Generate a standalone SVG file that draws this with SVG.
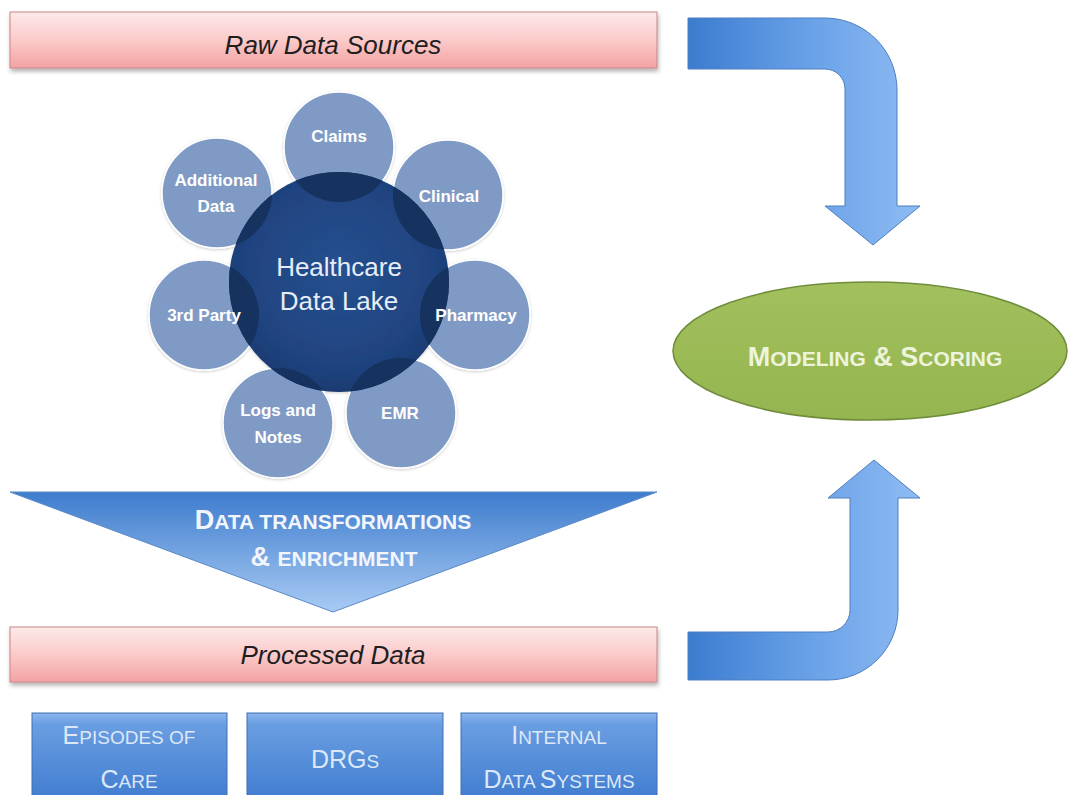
<svg xmlns="http://www.w3.org/2000/svg" width="1070" height="795" viewBox="0 0 1070 795">
<defs>
<linearGradient id="pink" x1="0" y1="0" x2="0" y2="1">
<stop offset="0" stop-color="#fdeaea"/><stop offset="0.5" stop-color="#fbcaca"/><stop offset="1" stop-color="#f4a2a2"/>
</linearGradient>
<linearGradient id="arrowGrad" gradientUnits="userSpaceOnUse" x1="688" y1="0" x2="915" y2="0">
<stop offset="0" stop-color="#3b7cd0"/><stop offset="0.55" stop-color="#6aa2e8"/><stop offset="1" stop-color="#8dbaf2"/>
</linearGradient>
<linearGradient id="triGrad" x1="0" y1="0" x2="0" y2="1">
<stop offset="0" stop-color="#3e7ccd"/><stop offset="1" stop-color="#a9cbf4"/>
</linearGradient>
<linearGradient id="boxGrad" x1="0" y1="0" x2="0" y2="1">
<stop offset="0" stop-color="#8cb6ee"/><stop offset="0.12" stop-color="#6a9ee2"/><stop offset="1" stop-color="#3f7bcf"/>
</linearGradient>
<radialGradient id="coreGrad" cx="0.5" cy="0.45" r="0.55">
<stop offset="0" stop-color="#26508f"/><stop offset="0.8" stop-color="#1f437f"/><stop offset="1" stop-color="#1a3a70"/>
</radialGradient>
<linearGradient id="greenGrad" x1="0" y1="0" x2="0" y2="1">
<stop offset="0" stop-color="#a2c05e"/><stop offset="1" stop-color="#94b54f"/>
</linearGradient>
<clipPath id="coreClip"><circle cx="339" cy="282" r="110"/></clipPath>
<filter id="shadow" x="-5%" y="-20%" width="110%" height="150%">
<feDropShadow dx="1" dy="3" stdDeviation="2" flood-color="#000" flood-opacity="0.3"/>
</filter>
<filter id="soft" x="-10%" y="-10%" width="120%" height="120%">
<feDropShadow dx="0" dy="1" stdDeviation="1.5" flood-color="#000" flood-opacity="0.2"/>
</filter>
</defs>
<style>
.bar{fill:url(#pink);stroke:#c78585;stroke-width:1;filter:url(#shadow)}
.barText{font-family:"Liberation Sans",Arial,sans-serif;font-style:italic;font-size:26px;fill:#1e1e1e;text-anchor:middle}
.sat{fill:#7f9bc5;stroke:#ffffff;stroke-width:1.5}
.satDark{fill:#15305e}
.satText{font-family:"Liberation Sans",Arial,sans-serif;font-weight:bold;font-size:17px;fill:#ffffff;text-anchor:middle}
.coreText{font-family:"Liberation Sans",Arial,sans-serif;font-size:26px;fill:#e6edf8;text-anchor:middle}
.arrow{fill:url(#arrowGrad);stroke:#4f7fbf;stroke-width:1}
.box{fill:url(#boxGrad);stroke:#3f6fb0;stroke-width:1}
.boxText{font-family:"Liberation Sans",Arial,sans-serif;font-size:25px;fill:#dce8f8;text-anchor:middle}
.sc{font-size:19px}
.triText{font-family:"Liberation Sans",Arial,sans-serif;font-weight:bold;font-size:27px;fill:#f2f6fc;text-anchor:middle}
.tsc{font-size:21px}
.ellText{font-family:"Liberation Sans",Arial,sans-serif;font-weight:bold;font-size:27px;fill:#eef4dc;text-anchor:middle}
.esc{font-size:21px}
</style>
<rect width="1070" height="795" fill="#ffffff"/>

<g id="connectors">
<path class="arrow" d="M688,18 L825,18 A72,72 0 0 1 897,90 L897,206 L920,206 L873,245 L825,206 L845,206 L845,89 A20,20 0 0 0 825,69 L688,69 Z"/>
<path class="arrow" d="M688,632 L828,632 A22,22 0 0 0 850,610 L850,498 L828,498 L874,460 L920,498 L898,498 L898,610 A70,70 0 0 1 828,680 L688,680 Z"/>
</g>

<g id="raw-data-sources">
<rect class="bar" x="10" y="12" width="647" height="56"/>
<text class="barText" x="333" y="54">Raw Data Sources</text>
</g>

<g id="healthcare-data-lake" filter="url(#soft)">
<circle class="sat" cx="339" cy="147" r="55"/>
<circle class="sat" cx="448" cy="195" r="55"/>
<circle class="sat" cx="475" cy="315" r="55"/>
<circle class="sat" cx="401" cy="413" r="55"/>
<circle class="sat" cx="278" cy="423" r="55"/>
<circle class="sat" cx="204" cy="315" r="55"/>
<circle class="sat" cx="217" cy="193" r="55"/>
<circle cx="339" cy="282" r="110" fill="url(#coreGrad)"/>
<g clip-path="url(#coreClip)">
<circle class="satDark" cx="339" cy="147" r="55"/>
<circle class="satDark" cx="448" cy="195" r="55"/>
<circle class="satDark" cx="475" cy="315" r="55"/>
<circle class="satDark" cx="401" cy="413" r="55"/>
<circle class="satDark" cx="278" cy="423" r="55"/>
<circle class="satDark" cx="204" cy="315" r="55"/>
<circle class="satDark" cx="217" cy="193" r="55"/>
</g>
</g>
<g id="claims"><text class="satText" x="339" y="142">Claims</text></g>
<g id="clinical"><text class="satText" x="449" y="202">Clinical</text></g>
<g id="pharmacy"><text class="satText" x="476" y="321">Pharmacy</text></g>
<g id="emr"><text class="satText" x="400" y="419">EMR</text></g>
<g id="logs-and-notes"><text class="satText" x="278" y="416">Logs and</text><text class="satText" x="278" y="443">Notes</text></g>
<g id="third-party"><text class="satText" x="204" y="321">3rd Party</text></g>
<g id="additional-data"><text class="satText" x="216" y="186">Additional</text><text class="satText" x="216" y="212">Data</text></g>
<g id="core-label"><text class="coreText" x="339" y="276">Healthcare</text><text class="coreText" x="339" y="310">Data Lake</text></g>

<g id="data-transformations">
<path d="M10,492 L657,492 L333,612 Z" fill="url(#triGrad)" stroke="#5b8ac6" stroke-width="1"/>
<text class="triText" x="333" y="529">D<tspan class="tsc">ATA TRANSFORMATIONS</tspan></text>
<text class="triText" x="334" y="566">&amp; <tspan class="tsc">ENRICHMENT</tspan></text>
</g>

<g id="processed-data">
<rect class="bar" x="10" y="627" width="647" height="55"/>
<text class="barText" x="333" y="664">Processed Data</text>
</g>

<g id="modeling-scoring">
<ellipse cx="870" cy="351" rx="197" ry="69" fill="url(#greenGrad)" stroke="#6f8c3b" stroke-width="1.5"/>
<text class="ellText" x="875" y="366">M<tspan class="esc">ODELING</tspan> &amp; S<tspan class="esc">CORING</tspan></text>
</g>

<g id="episodes-of-care">
<rect class="box" x="32" y="713" width="195" height="90"/>
<text class="boxText" x="129" y="744">E<tspan class="sc">PISODES OF</tspan></text>
<text class="boxText" x="129" y="788">C<tspan class="sc">ARE</tspan></text>
</g>
<g id="drgs">
<rect class="box" x="247" y="713" width="196" height="90"/>
<text class="boxText" x="345" y="768">DRG<tspan class="sc">S</tspan></text>
</g>
<g id="internal-data-systems">
<rect class="box" x="461" y="713" width="196" height="90"/>
<text class="boxText" x="559" y="744">I<tspan class="sc">NTERNAL</tspan></text>
<text class="boxText" x="559" y="788">D<tspan class="sc">ATA </tspan>S<tspan class="sc">YSTEMS</tspan></text>
</g>
</svg>
